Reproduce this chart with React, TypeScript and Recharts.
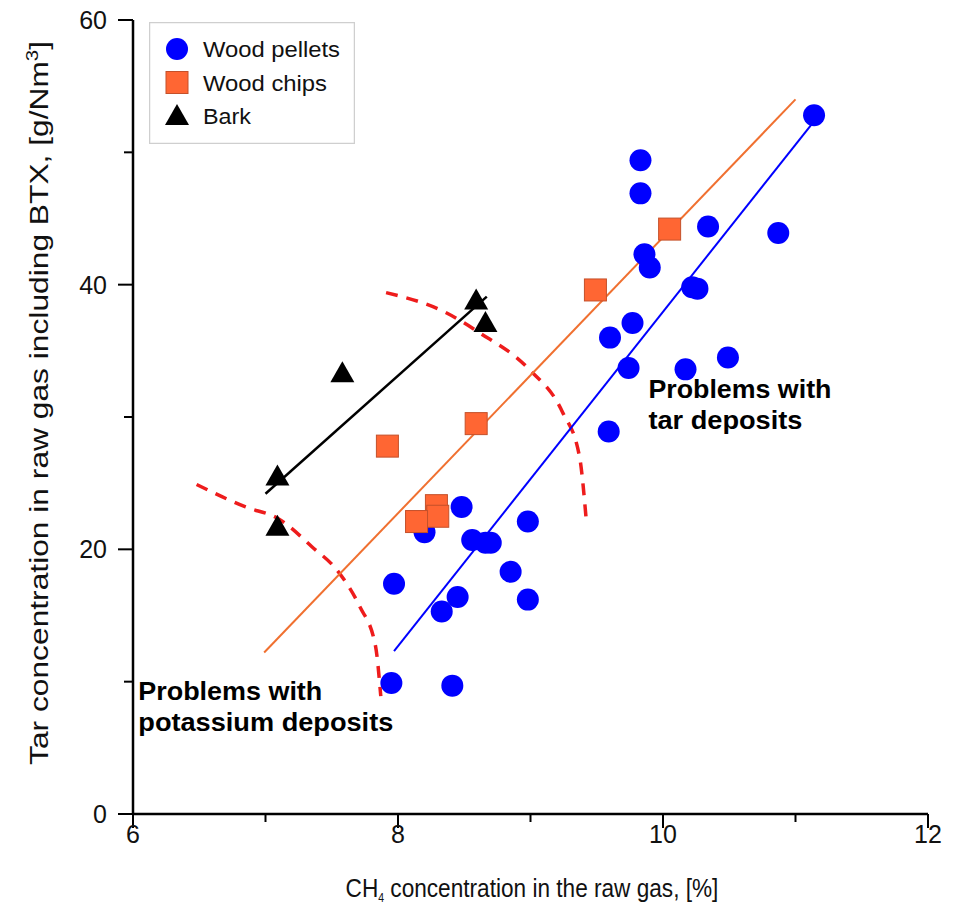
import React from "react";
import {
  ComposedChart,
  Scatter,
  Line,
  XAxis,
  YAxis,
  Legend,
  ReferenceDot,
} from "recharts";

// CH4 [%] vs tar [g/Nm3]
const pelletsX = [11.14, 9.83, 9.83, 10.87, 10.34, 9.86, 9.9, 10.22, 10.26, 9.77, 9.6, 10.49, 10.17, 9.74, 9.59, 8.48, 8.2, 8.56, 8.66, 8.7, 8.98, 8.85, 7.97, 8.45, 8.33, 8.98, 7.95, 8.41];
const pelletsY = [52.8, 49.4, 46.9, 43.9, 44.4, 42.3, 41.3, 39.8, 39.7, 37.1, 36.0, 34.5, 33.6, 33.7, 28.9, 23.2, 21.3, 20.7, 20.5, 20.5, 22.1, 18.3, 17.4, 16.4, 15.3, 16.2, 9.9, 9.7];

const chipsX = [10.05, 9.49, 8.59, 7.92, 8.29, 8.3, 8.14];
const chipsY = [44.2, 39.6, 29.5, 27.8, 23.3, 22.5, 22.1];

const barkX = [8.59, 8.66, 7.58, 7.09, 7.09];
const barkY = [38.8, 37.1, 33.3, 25.5, 21.7];

// regression lines (end points)
const pelletsFitX = [7.97, 11.12];
const pelletsFitY = [12.3, 52.1];
const chipsFitX = [6.99, 11.0];
const chipsFitY = [12.2, 54.0];
const barkFitX = [7.0, 8.67];
const barkFitY = [24.2, 39.1];

// red dashed boundaries
const tarArcX = [7.91, 8.36, 8.61, 8.99, 9.24, 9.37, 9.42];
const tarArcY = [39.4, 37.9, 36.4, 33.6, 30.4, 27.0, 22.3];
const potArcX = [6.48, 6.85, 7.1, 7.35, 7.55, 7.71, 7.83, 7.87];
const potArcY = [24.9, 23.2, 22.3, 20.2, 18.3, 15.7, 12.7, 8.9];

const xTicks = [6, 7, 8, 9, 10, 11, 12];
const yTicks = [0, 10, 20, 30, 40, 50, 60];

const legendItems = ["Wood pellets", "Wood chips", "Bark"];
const legendWidths = [137, 124, 48];

const zip = (xs: number[], ys: number[]) => xs.map((x, i) => ({ x, y: ys[i] }));

const FONT = "'Liberation Sans', Arial, sans-serif";
const BLUE = "#0000ff";
const ORANGE = "#ff6633";
const ORANGE_LINE = "#f07030";
const RED = "#ee1c1c";

const Circle = ({ cx, cy }: any) => <circle cx={cx} cy={cy} r={11} fill={BLUE} />;
const Square = ({ cx, cy }: any) => (
  <rect x={cx - 11} y={cy - 11} width={22} height={22} fill={ORANGE} stroke="#c4502a" strokeWidth={1} />
);
const Triangle = ({ cx, cy }: any) => (
  <path d={`M${cx},${cy - 12} L${cx + 12},${cy + 9} L${cx - 12},${cy + 9} Z`} fill="#000" />
);

const XTick = ({ x, y, payload }: any) => {
  const major = payload.value % 2 === 0;
  return (
    <g>
      <line x1={x} x2={x} y1={y} y2={y + (major ? 14 : 8)} stroke="#000" strokeWidth={2} />
      {major && (
        <text x={x} y={y + 29} textAnchor="middle" fontSize={25} fontFamily={FONT} fill="#111">
          {payload.value}
        </text>
      )}
    </g>
  );
};

const YTick = ({ x, y, payload }: any) => {
  const major = payload.value % 20 === 0;
  return (
    <g>
      <line x1={x} x2={x - (major ? 15 : 9)} y1={y} y2={y} stroke="#000" strokeWidth={2} />
      {major && (
        <text x={x - 26} y={y + 9} textAnchor="end" fontSize={25} fontFamily={FONT} fill="#111">
          {payload.value}
        </text>
      )}
    </g>
  );
};

const LegendBox = () => (
  <svg width={206} height={122}>
    <rect x={0.5} y={0.5} width={205} height={121} fill="#fff" stroke="#cfcfcf" strokeWidth={1.5} />
    {legendItems.map((name, i) => {
      const cy = 27 + i * 33.5;
      return (
        <g key={name}>
          {i === 0 && <Circle cx={28} cy={cy} />}
          {i === 1 && <Square cx={28} cy={cy} />}
          {i === 2 && <Triangle cx={28} cy={cy} />}
          <text
            x={54}
            y={cy + 8}
            fontSize={22}
            fontFamily={FONT}
            fill="#111"
            textLength={legendWidths[i]}
            lengthAdjust="spacingAndGlyphs"
          >
            {name}
          </text>
        </g>
      );
    })}
  </svg>
);

const Note = ({ cx, cy, lines, widths }: any) => (
  <g>
    {lines.map((l: string, i: number) => (
      <text
        key={i}
        x={cx}
        y={cy + i * 31}
        fontSize={25}
        fontWeight="bold"
        fontFamily={FONT}
        fill="#000"
        textLength={widths[i]}
        lengthAdjust="spacingAndGlyphs"
      >
        {l}
      </text>
    ))}
  </g>
);

export default function App() {
  return (
    <div style={{ position: "absolute", left: 0, top: 0, background: "#fff" }}>
      <ComposedChart width={966} height={914} margin={{ top: 20, right: 38, bottom: 40, left: 33 }}>
        <XAxis
          type="number"
          dataKey="x"
          domain={[6, 12]}
          ticks={xTicks}
          tick={<XTick />}
          tickLine={false}
          tickSize={0}
          tickMargin={0}
          height={60}
          axisLine={{ stroke: "#000", strokeWidth: 2.5 }}
          allowDataOverflow
          label={{
            content: () => (
              <g transform="translate(532 897) scale(0.87 1)">
                <text x={0} y={0} textAnchor="middle" fontSize={26} fontFamily={FONT} fill="#111">
                  CH
                  <tspan fontSize={12} dy={5}>4</tspan>
                  <tspan dy={-5}> concentration in the raw gas, [%]</tspan>
                </text>
              </g>
            ),
          }}
        />
        <YAxis
          type="number"
          dataKey="y"
          domain={[0, 60]}
          ticks={yTicks}
          tick={<YTick />}
          tickLine={false}
          tickSize={0}
          tickMargin={0}
          width={100}
          axisLine={{ stroke: "#000", strokeWidth: 2.5 }}
          allowDataOverflow
          label={{
            content: () => (
              <g transform="translate(48 403) rotate(-90) scale(1.27 1)">
                <text x={0} y={0} textAnchor="middle" fontSize={25} fontFamily={FONT} fill="#111">
                  Tar concentration in raw gas including BTX, [g/Nm
                  <tspan fontSize={16} dy={-10}>3</tspan>
                  <tspan dy={10}>]</tspan>
                </text>
              </g>
            ),
          }}
        />
        <Legend
          layout="vertical"
          align="center"
          verticalAlign="middle"
          content={() => <LegendBox />}
          wrapperStyle={{ position: "absolute", left: 149, top: 22, width: 206, height: 122 }}
        />
        <Scatter data={zip(pelletsX, pelletsY)} shape={<Circle />} isAnimationActive={false} />
        <Scatter data={zip(barkX, barkY)} shape={<Triangle />} isAnimationActive={false} />
        <Line data={zip(tarArcX, tarArcY)} dataKey="y" type="monotone" stroke={RED} strokeWidth={3.5} strokeDasharray="12 9" dot={false} isAnimationActive={false} />
        <Line data={zip(potArcX, potArcY)} dataKey="y" type="monotone" stroke={RED} strokeWidth={3.5} strokeDasharray="12 9" dot={false} isAnimationActive={false} />
        <Line data={zip(pelletsFitX, pelletsFitY)} dataKey="y" stroke={BLUE} strokeWidth={2} dot={false} isAnimationActive={false} />
        <Line data={zip(chipsFitX, chipsFitY)} dataKey="y" stroke={ORANGE_LINE} strokeWidth={2} dot={false} isAnimationActive={false} />
        <Line data={zip(barkFitX, barkFitY)} dataKey="y" stroke="#000" strokeWidth={2.5} dot={false} isAnimationActive={false} />
        <Scatter data={zip(chipsX, chipsY)} shape={<Square />} isAnimationActive={false} />
        <ReferenceDot
          x={9.89}
          y={31.4}
          ifOverflow="visible"
          shape={(p: any) => (
            <Note cx={p.cx} cy={p.cy} lines={["Problems with", "tar deposits"]} widths={[183, 154]} />
          )}
        />
        <ReferenceDot
          x={6.04}
          y={8.6}
          ifOverflow="visible"
          shape={(p: any) => (
            <Note cx={p.cx} cy={p.cy} lines={["Problems with", "potassium deposits"]} widths={[184, 255]} />
          )}
        />
      </ComposedChart>
    </div>
  );
}
